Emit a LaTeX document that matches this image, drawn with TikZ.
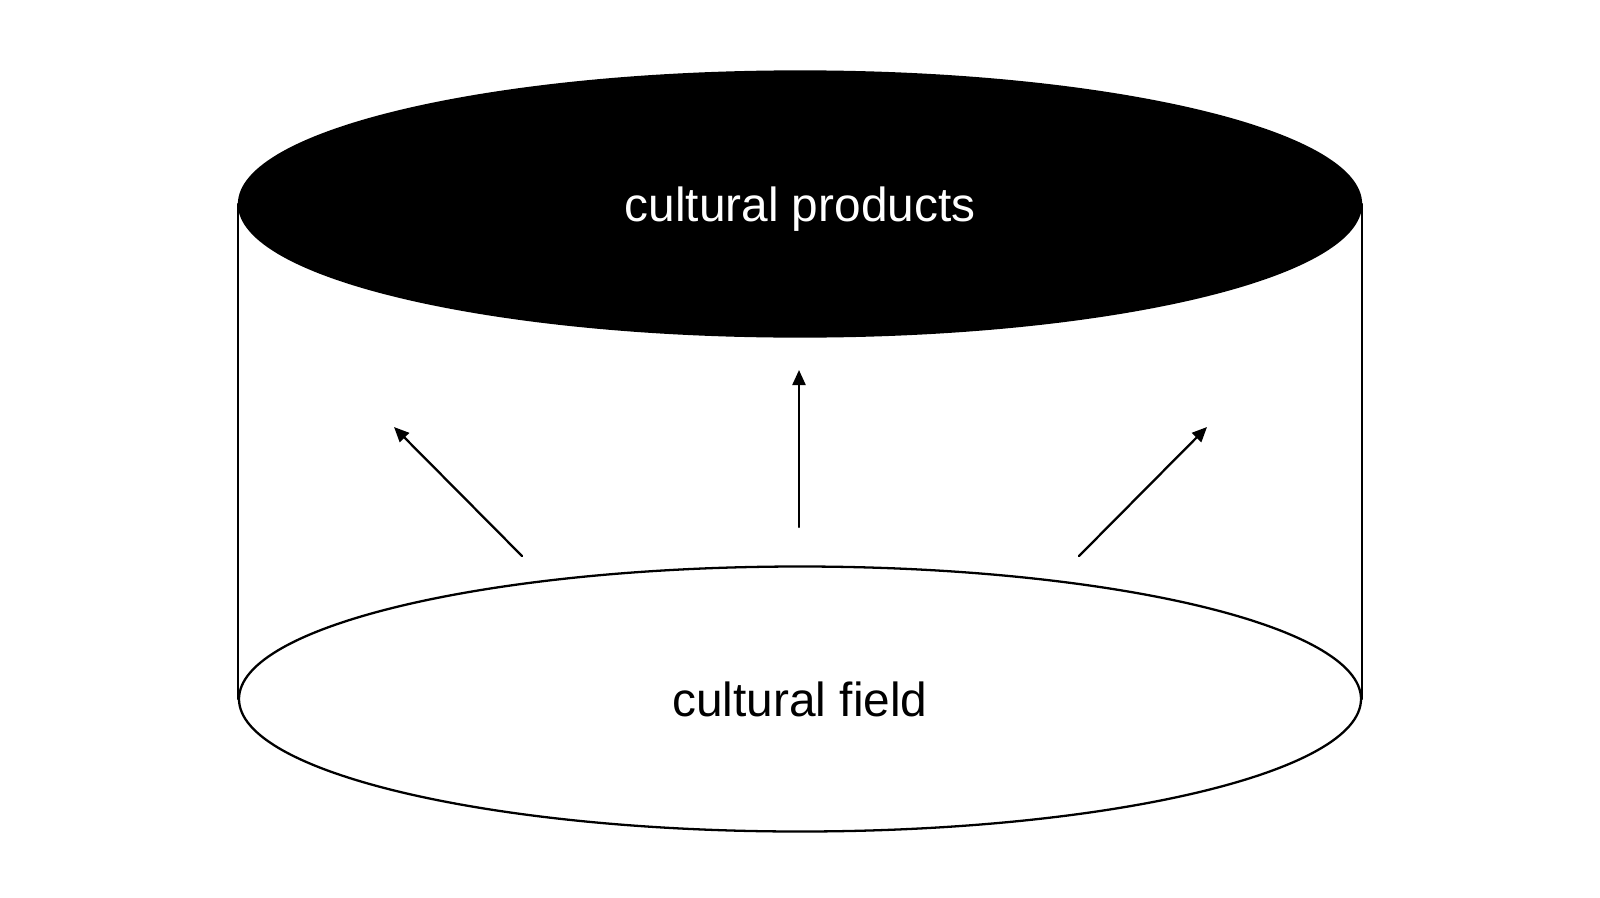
\documentclass[tikz,border=0pt]{standalone}
\usepackage{fontspec}
\setsansfont{Liberation Sans}
\usetikzlibrary{arrows.meta,shapes.geometric}

\begin{document}
\begin{tikzpicture}[line cap=round,line join=round,font=\sffamily\fontsize{13.6}{16}\selectfont,
    disc/.style={ellipse,draw=black,line width=0.65pt,inner sep=0pt,text depth=0pt,minimum width=11.22cm,minimum height=2.65cm},
    rise/.style={-{Triangle[length=1.5mm,width=1.3mm]},line width=0.65pt}]
  \useasboundingbox (0,0) rectangle (16,8.97);
  % walls of the cylinder
  \node[disc,fill=black,text=white] (products) at (8,6.93) {cultural products};
  \node[disc,fill=white] (field) at (8,1.98) {cultural field};
  \draw[line width=0.65pt] (products.west) -- (field.west);
  \draw[line width=0.65pt] (products.east) -- (field.east);
  % arrows from the field upwards
  \coordinate (leftfoot) at (5.22,3.41);
  \coordinate (lefttip) at (3.94,4.70);
  \coordinate (midfoot) at (7.99,3.70);
  \coordinate (midtip) at (7.99,5.27);
  \coordinate (rightfoot) at (10.79,3.41);
  \coordinate (righttip) at (12.07,4.70);
  \draw[rise] (leftfoot) -- (lefttip);
  \draw[rise] (midfoot) -- (midtip);
  \draw[rise] (rightfoot) -- (righttip);
\end{tikzpicture}
\end{document}
